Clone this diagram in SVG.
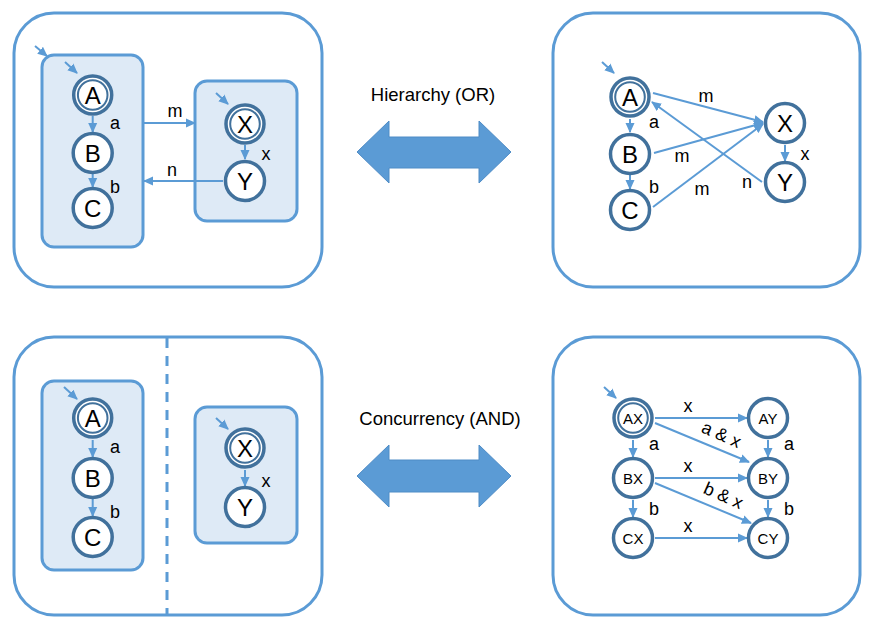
<svg xmlns="http://www.w3.org/2000/svg" width="873" height="623" viewBox="0 0 873 623">
<defs>
<marker id="ah" markerUnits="userSpaceOnUse" markerWidth="10" markerHeight="10" viewBox="0 0 10 10" refX="9" refY="5" orient="auto">
<path d="M0,0.5 L10,5 L0,9.5 Z" fill="#5B9BD5"/>
</marker>
<style>
.panel{fill:#fff;stroke:#5B9BD5;stroke-width:3}
.box{fill:#DEEAF6;stroke:#5B9BD5;stroke-width:3}
.n{fill:#fff;stroke:#41719C;stroke-width:3.5}
.dn{fill:#fff;stroke:#41719C;stroke-width:3.5}
.dr{fill:none;stroke:#41719C;stroke-width:2}
.e{stroke:#5B9BD5;stroke-width:2;fill:none;marker-end:url(#ah)}
.big{font-family:"Liberation Sans",Arial,sans-serif;font-size:24px;fill:#000;text-anchor:middle}
.two{font-family:"Liberation Sans",Arial,sans-serif;font-size:15px;fill:#000;text-anchor:middle}
.lb{font-family:"Liberation Sans",Arial,sans-serif;font-size:18px;fill:#000;text-anchor:middle}
.ttl{font-family:"Liberation Sans",Arial,sans-serif;font-size:18.5px;fill:#000;text-anchor:middle}
.dbl{fill:#5B9BD5;stroke:#4F8CC6;stroke-width:1}
</style>
</defs>

<!-- Panels -->
<g id="panel-or-hier"><rect class="panel" x="14" y="13" width="308" height="274" rx="40"/></g>
<g id="panel-or-flat"><rect class="panel" x="553" y="13" width="307" height="274" rx="40"/></g>
<g id="panel-and-hier"><rect class="panel" x="14" y="337" width="308" height="278" rx="40"/>
<line x1="167" y1="338" x2="167" y2="614" stroke="#5B9BD5" stroke-width="3" stroke-dasharray="10,8"/></g>
<g id="panel-and-flat"><rect class="panel" x="553" y="337" width="307" height="278" rx="40"/></g>

<!-- Top-left superstates -->
<g id="box-abc"><rect class="box" x="42" y="55" width="101" height="192" rx="12"/></g>
<g id="box-xy"><rect class="box" x="195" y="81" width="102" height="140" rx="12"/></g>
<!-- Bottom-left superstates -->
<g id="box-abc2"><rect class="box" x="42" y="381" width="101" height="189" rx="12"/></g>
<g id="box-xy2"><rect class="box" x="195" y="407" width="102" height="136" rx="12"/></g>

<!-- Middle double arrows -->
<g id="arrow-or">
<text class="ttl" x="433" y="101">Hierarchy (OR)</text>
<polygon class="dbl" points="357,152 389,121 389,137 479,137 479,121 511,152 479,183 479,168 389,168 389,183"/>
</g>
<g id="arrow-and">
<text class="ttl" x="440" y="425">Concurrency (AND)</text>
<polygon class="dbl" points="357,476 389,445 389,460 479,460 479,445 511,476 479,507 479,492 389,492 389,507"/>
</g>

<!-- Connectors -->
<g id="connectors">
<!-- panel 1 -->
<line class="e" x1="35" y1="46" x2="47" y2="56"/>
<line class="e" x1="65" y1="62" x2="77" y2="73"/>
<line class="e" x1="92.7" y1="116" x2="92.7" y2="132"/>
<line class="e" x1="92.7" y1="174" x2="92.7" y2="187"/>
<line class="e" x1="216" y1="93" x2="228" y2="104"/>
<line class="e" x1="245" y1="145" x2="245" y2="159"/>
<line class="e" x1="143" y1="123" x2="195" y2="123"/>
<line class="e" x1="223" y1="181" x2="144" y2="181"/>
<!-- panel 2 -->
<line class="e" x1="602" y1="62" x2="614" y2="73"/>
<line class="e" x1="630" y1="119" x2="630" y2="132"/>
<line class="e" x1="630" y1="175" x2="630" y2="189"/>
<line class="e" x1="785" y1="145" x2="785" y2="161"/>
<line class="e" x1="653" y1="93" x2="763" y2="122"/>
<line class="e" x1="654" y1="153" x2="763" y2="123"/>
<line class="e" x1="653" y1="207" x2="763" y2="124"/>
<line class="e" x1="762" y1="182" x2="652" y2="102"/>
<!-- panel 3 -->
<line class="e" x1="64" y1="387" x2="77" y2="399"/>
<line class="e" x1="92.7" y1="440" x2="92.7" y2="457"/>
<line class="e" x1="92.7" y1="499" x2="92.7" y2="516"/>
<line class="e" x1="216" y1="418" x2="228" y2="429"/>
<line class="e" x1="245" y1="470" x2="245" y2="486"/>
<!-- panel 4 -->
<line class="e" x1="604" y1="387" x2="616" y2="398"/>
<line class="e" x1="633" y1="440" x2="633" y2="457"/>
<line class="e" x1="633" y1="500" x2="633" y2="517"/>
<line class="e" x1="768" y1="440" x2="768" y2="457"/>
<line class="e" x1="768" y1="500" x2="768" y2="517"/>
<line class="e" x1="655" y1="418" x2="747" y2="418"/>
<line class="e" x1="655" y1="478" x2="747" y2="478"/>
<line class="e" x1="655" y1="538" x2="747" y2="538"/>
<line class="e" x1="655" y1="423" x2="749" y2="462"/>
<line class="e" x1="655" y1="483" x2="751" y2="523"/>
</g>

<!-- Panel 1 nodes -->
<g id="p1-A"><circle class="dn" cx="92.7" cy="95" r="19"/><circle class="dr" cx="92.7" cy="95" r="14.8"/><text class="big" x="92.7" y="103.5">A</text></g>
<g id="p1-B"><circle class="n" cx="92.7" cy="153" r="19.5"/><text class="big" x="92.7" y="161.5">B</text></g>
<g id="p1-C"><circle class="n" cx="92.7" cy="208" r="19.5"/><text class="big" x="92.7" y="216.5">C</text></g>
<g id="p1-X"><circle class="dn" cx="245" cy="124" r="19"/><circle class="dr" cx="245" cy="124" r="14.8"/><text class="big" x="245" y="132.5">X</text></g>
<g id="p1-Y"><circle class="n" cx="245" cy="181" r="19.5"/><text class="big" x="245" y="189.5">Y</text></g>

<!-- Panel 2 nodes -->
<g id="p2-A"><circle class="dn" cx="630" cy="97" r="19"/><circle class="dr" cx="630" cy="97" r="14.8"/><text class="big" x="630" y="105.5">A</text></g>
<g id="p2-B"><circle class="n" cx="630" cy="154" r="19.5"/><text class="big" x="630" y="162.5">B</text></g>
<g id="p2-C"><circle class="n" cx="630" cy="210" r="19.5"/><text class="big" x="630" y="218.5">C</text></g>
<g id="p2-X"><circle class="n" cx="785" cy="123" r="19.5"/><text class="big" x="785" y="131.5">X</text></g>
<g id="p2-Y"><circle class="n" cx="785" cy="182" r="19.5"/><text class="big" x="785" y="190.5">Y</text></g>

<!-- Panel 3 nodes -->
<g id="p3-A"><circle class="dn" cx="92.7" cy="418" r="19"/><circle class="dr" cx="92.7" cy="418" r="14.8"/><text class="big" x="92.7" y="426.5">A</text></g>
<g id="p3-B"><circle class="n" cx="92.7" cy="478" r="19.5"/><text class="big" x="92.7" y="486.5">B</text></g>
<g id="p3-C"><circle class="n" cx="92.7" cy="537" r="19.5"/><text class="big" x="92.7" y="545.5">C</text></g>
<g id="p3-X"><circle class="dn" cx="245" cy="448" r="19"/><circle class="dr" cx="245" cy="448" r="14.8"/><text class="big" x="245" y="456.5">X</text></g>
<g id="p3-Y"><circle class="n" cx="245" cy="507" r="19.5"/><text class="big" x="245" y="515.5">Y</text></g>

<!-- Panel 4 nodes -->
<g id="p4-AX"><circle class="dn" cx="633" cy="418" r="19"/><circle class="dr" cx="633" cy="418" r="14.8"/><text class="two" x="633" y="423.5">AX</text></g>
<g id="p4-AY"><circle class="n" cx="768" cy="418" r="19.5"/><text class="two" x="768" y="423.5">AY</text></g>
<g id="p4-BX"><circle class="n" cx="633" cy="478" r="19.5"/><text class="two" x="633" y="483.5">BX</text></g>
<g id="p4-BY"><circle class="n" cx="768" cy="478" r="19.5"/><text class="two" x="768" y="483.5">BY</text></g>
<g id="p4-CX"><circle class="n" cx="633" cy="538" r="19.5"/><text class="two" x="633" y="543.5">CX</text></g>
<g id="p4-CY"><circle class="n" cx="768" cy="538" r="19.5"/><text class="two" x="768" y="543.5">CY</text></g>

<!-- Labels -->
<g id="labels">
<text class="lb" x="115" y="129">a</text>
<text class="lb" x="115" y="193">b</text>
<text class="lb" x="266" y="160">x</text>
<text class="lb" x="175" y="117">m</text>
<text class="lb" x="172" y="176">n</text>

<text class="lb" x="654" y="128">a</text>
<text class="lb" x="654" y="193">b</text>
<text class="lb" x="805" y="160">x</text>
<text class="lb" x="706" y="102">m</text>
<text class="lb" x="682" y="162">m</text>
<text class="lb" x="702" y="195">m</text>
<text class="lb" x="747" y="188">n</text>

<text class="lb" x="115" y="453">a</text>
<text class="lb" x="115" y="518">b</text>
<text class="lb" x="266" y="487">x</text>

<text class="lb" x="688" y="412">x</text>
<text class="lb" x="688" y="472">x</text>
<text class="lb" x="688" y="532">x</text>
<text class="lb" x="654" y="450">a</text>
<text class="lb" x="654" y="515">b</text>
<text class="lb" x="789" y="450">a</text>
<text class="lb" x="789" y="515">b</text>
<text class="lb" transform="translate(719,440) rotate(24)">a &amp; x</text>
<text class="lb" transform="translate(721,501) rotate(24)">b &amp; x</text>
</g>
</svg>
